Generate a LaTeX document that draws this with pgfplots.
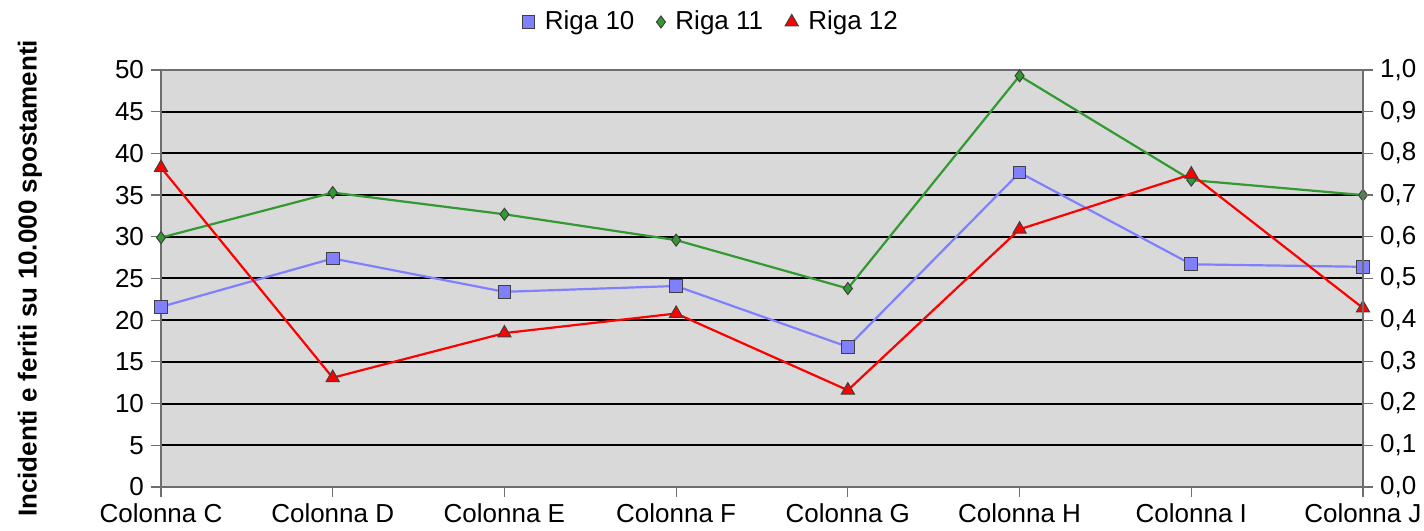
\documentclass[border=0pt]{standalone}
\usepackage{fontspec}
\setmainfont{Liberation Sans}
\usepackage{pgfplots}
\pgfplotsset{compat=1.18}
\definecolor{serblue}{RGB}{128,128,255}
\definecolor{sergreen}{RGB}{51,153,51}
\definecolor{plotbg}{RGB}{217,217,217}
\definecolor{axgray}{RGB}{110,110,110}

\begin{document}
\begin{tikzpicture}[font=\fontsize{13}{15.5}\selectfont]
\pgfplotsset{
  every axis/.append style={
    scale only axis, width=601pt, height=208.5pt,
    /pgf/number format/assume math mode=true,
    tick align=outside, major tick length=5pt,
    tick style={axgray, line width=0.6pt},
    axis line style={axgray, line width=0.6pt},
  },
  legend image code/.code={\draw[#1] plot coordinates {(0.15cm,0cm)};},
}
\begin{axis}[
  name=ax,
  xmin=0, xmax=7, ymin=0, ymax=50,
  xtick={0,...,7},
  xticklabels={Colonna C,Colonna D,Colonna E,Colonna F,Colonna G,Colonna H,Colonna I,Colonna J},
  xtick pos=bottom, ytick pos=left,
  ytick={0,5,...,50},
  ymajorgrids, grid style={black, line width=1pt},
  axis background/.style={fill=plotbg},
  ylabel={\bfseries Incidenti e feriti su 10.000 spostamenti},
  ylabel style={at={(axis description cs:-0.109,0.5)}, anchor=center},
  legend style={draw=none, fill=none, at={(axis description cs:0.4584,1.115)}, anchor=center,
    legend columns=3,
    /tikz/every even column/.append style={column sep=9pt},
    /tikz/every odd column/.append style={column sep=3pt}},
]
\addplot[serblue, line width=1.1pt, mark=square*, mark size=3.2pt,
  mark options={fill=serblue, draw=black!75, line width=0.5pt}] table[x=x, y=y] {
x y
0 21.6
1 27.4
2 23.4
3 24.1
4 16.8
5 37.7
6 26.7
7 26.4
};
\addlegendentry{Riga 10}
\addplot[sergreen, line width=1.1pt, mark=diamond*, mark size=3pt,
  mark options={fill=sergreen, draw=black!75, line width=0.5pt}] table[x=x, y=y] {
x y
0 29.9
1 35.3
2 32.7
3 29.6
4 23.8
5 49.3
6 36.8
7 35.0
};
\addlegendentry{Riga 11}
\addplot[red, line width=1.1pt, mark=triangle*, mark size=3.8pt,
  mark options={fill=red, draw=black!75, line width=0.5pt}] table[x=x, y=y] {
x y
0 38.3
1 13.1
2 18.45
3 20.8
4 11.6
5 30.9
6 37.5
7 21.45
};
\addlegendentry{Riga 12}
\end{axis}
\begin{axis}[
  xmin=0, xmax=7, ymin=0, ymax=1,
  hide x axis,
  axis y line*=right,
  ytick={0,0.1,...,1.0},
  yticklabel style={/pgf/number format/.cd, use comma, fixed, fixed zerofill, precision=1},
]
\end{axis}
\pgfresetboundingbox
\path ([shift={(-80.5pt,-22pt)}]ax.south west) rectangle ([shift={(30.5pt,35pt)}]ax.north east);
\end{tikzpicture}
\end{document}
